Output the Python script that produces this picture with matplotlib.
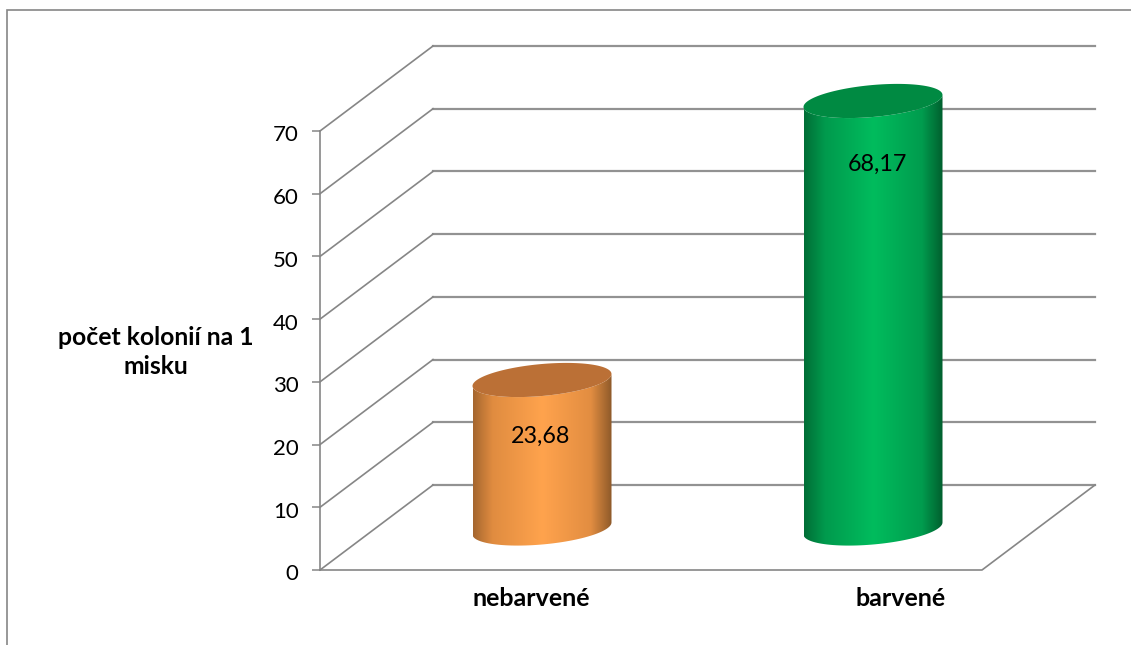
import numpy as np
import matplotlib
matplotlib.use('Agg')
import matplotlib.pyplot as plt
from matplotlib.lines import Line2D
from matplotlib.path import Path
from matplotlib.patches import PathPatch
from matplotlib.colors import LinearSegmentedColormap
from matplotlib.transforms import ScaledTranslation

categories = ['nebarvené', 'barvené']
values = [23.68, 68.17]
yticks = [0, 10, 20, 30, 40, 50, 60, 70]
ylabel = 'počet kolonií na 1\nmisku'

W, H = 1131, 645
GREY = '#868686'
plt.rcParams['font.family'] = ['Lato', 'DejaVu Sans']


def fx(px):
    return px / W


def fy(py):
    return 1 - py / H


fig = plt.figure(figsize=(W / 100, H / 100), dpi=100)
# axes runs from the front corner of the floor to the far corner of the back wall
ax = fig.add_axes([fx(320), fy(570), (1095 - 320) / W, (570 - 46) / H])
px_per_y = 439 / 70
px_per_x = 331
depth_x = 113 / px_per_x
depth_y = 85 / px_per_y
ax.set_xlim(0, 2 + depth_x)
ax.set_ylim(0, 70 + depth_y)
ax.patch.set_visible(False)

for s in ['top', 'right', 'bottom']:
    ax.spines[s].set_visible(False)
ax.spines['left'].set_bounds(0, 70)
ax.spines['left'].set_color(GREY)
ax.spines['left'].set_linewidth(1.2)
ax.set_xticks([])
ax.set_yticks(yticks)
ax.tick_params(axis='y', colors=GREY, length=5.5, width=1.1, pad=10, labelcolor='black', labelsize=16)
# tick labels sit slightly below their ticks
for lab in ax.get_yticklabels():
    lab.set_transform(lab.get_transform() + ScaledTranslation(0, -2.5 / 100, fig.dpi_scale_trans))

# back wall gridlines with their slanted part on the side wall
for t in yticks:
    ax.plot([0, depth_x], [t, t + depth_y], color=GREY, lw=1.2, clip_on=False, zorder=1)
    ax.plot([depth_x, 2 + depth_x], [t + depth_y, t + depth_y], color=GREY, lw=1.6, alpha=0.9, clip_on=False, zorder=1)
# floor
ax.plot([0, 2, 2 + depth_x], [0, 0, depth_y], color=GREY, lw=1.2, clip_on=False, zorder=1)

orange = LinearSegmentedColormap.from_list('o', [(0, '#A5662F'), (0.14, '#E08C40'), (0.5, '#FFA34D'), (0.85, '#E28D41'), (1, '#8E5A2A')])
green = LinearSegmentedColormap.from_list('g', [(0, '#006E36'), (0.15, '#009A4D'), (0.5, '#00BC5D'), (0.85, '#009C4E'), (1, '#005F2E')])
cmaps = [orange, green]
top_colors = ['#BB7036', '#008A42']

# cylinder outline sizes, in data units
rx = 69.5 / px_per_x
tilt = 6 / px_per_y
ry = 16 / px_per_y
t_lower = np.linspace(np.pi, 2 * np.pi, 60)
t_all = np.linspace(0, 2 * np.pi, 120)


def ring(cx, cy, t):
    return np.column_stack([cx + rx * np.cos(t), cy + tilt * np.cos(t) + ry * np.sin(t)])


for i, v in enumerate(values):
    cx = i + 0.5 + 0.5 * depth_x
    base = 0.5 * depth_y - 1 / px_per_y
    lower = ring(cx, base, t_lower)
    upper = ring(cx, base + v, t_lower)[::-1]
    verts = np.vstack([lower, upper, lower[:1]])
    body = PathPatch(Path(verts), fc='none', ec='none', transform=ax.transData)
    ax.add_patch(body)
    grad = np.linspace(0, 1, 256).reshape(1, -1)
    im = ax.imshow(grad, cmap=cmaps[i], extent=[cx - rx, cx + rx, 0, 70 + depth_y], aspect='auto', zorder=2)
    im.set_clip_path(body)
    ax.add_patch(PathPatch(Path(ring(cx, base + v, t_all)), fc=top_colors[i], ec='none', zorder=3))

ax.set_xlim(0, 2 + depth_x)
ax.set_ylim(0, 70 + depth_y)

# value labels inside the cylinders
label_pos = [(541, 436), (877, 164)]
for v, (px, py) in zip(values, label_pos):
    fig.text(fx(px), fy(py), f'{v:.2f}'.replace('.', ','), ha='center', va='center', fontsize=16.8, color='black', zorder=5)

for name, px in zip(categories, [531, 901]):
    fig.text(fx(px), fy(598), name, ha='center', va='center', fontsize=18, fontweight='bold', color='black')

fig.text(fx(156), fy(352), ylabel, ha='center', va='center', fontsize=17.8, fontweight='bold', color='black', linespacing=1.35)

# chart frame
fig.add_artist(Line2D([fx(7), fx(7), fx(W)], [fy(H), fy(10), fy(10)], color=GREY, lw=1.2, solid_joinstyle='miter'))

fig.savefig('out.png', dpi=100, facecolor='white')
